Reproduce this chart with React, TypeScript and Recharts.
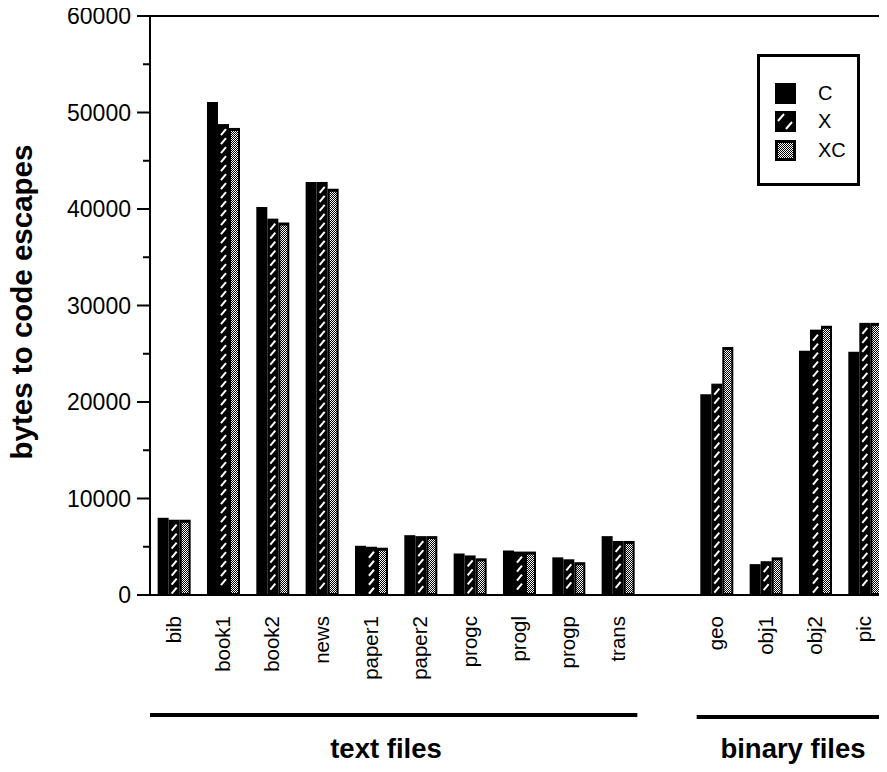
import React from "react";
import { BarChart, Bar, XAxis, YAxis, Legend, ReferenceLine } from "recharts";

const categories = ["bib", "book1", "book2", "news", "paper1", "paper2", "progc", "progl", "progp", "trans", "", "geo", "obj1", "obj2", "pic"];
const cValues = [8000, 51100, 40200, 42800, 5100, 6200, 4300, 4600, 3900, 6100, null, 20800, 3200, 25300, 25200];
const xValues = [7800, 48800, 39000, 42800, 5000, 6100, 4100, 4500, 3700, 5600, null, 21900, 3500, 27500, 28200];
const xcValues = [7800, 48400, 38600, 42100, 4900, 6100, 3800, 4500, 3400, 5600, null, 25700, 3900, 27900, 28200];
const yTicks = [0, 5000, 10000, 15000, 20000, 25000, 30000, 35000, 40000, 45000, 50000, 55000, 60000];
const groups = [
  { label: "text files", from: 0, to: 9 },
  { label: "binary files", from: 11, to: 14 },
];

const data = categories.map((name, i) => ({ name, C: cValues[i], X: xValues[i], XC: xcValues[i] }));

const FONT = "'Liberation Sans', Arial, Helvetica, sans-serif";
const W = 910;
const H = 772;
const LEFT = 150;
const RIGHT = 20;
const TOP = 16;
const X_HEIGHT = 177;
const slot = (W - LEFT - RIGHT) / categories.length;

const HatchBar = ({ x, y, width, height }: any) => {
  if (!height || height <= 0) return null;
  const lines = [];
  for (let yy = y + 4; yy + 7 < y + height - 1; yy += 9) {
    lines.push(
      <line key={yy} x1={x + 3} y1={yy + 7} x2={x + width - 3} y2={yy + 1} stroke="#fff" strokeWidth={2} />
    );
  }
  return (
    <g>
      <rect x={x} y={y} width={width} height={height} fill="#000" />
      {lines}
    </g>
  );
};

const DotBar = ({ x, y, width, height }: any) => {
  if (!height || height <= 0) return null;
  return (
    <g>
      <rect x={x} y={y} width={width} height={height} fill="#000" />
      {height > 5 && (
        <rect x={x + 2} y={y + 3} width={width - 4} height={height - 5} fill="url(#dots)" />
      )}
    </g>
  );
};

const Swatch = ({ kind }: { kind: string }) => (
  <svg width={21} height={21} style={{ display: "block" }}>
    <defs>
      <pattern id={"sw-dots-" + kind} width={2} height={2} patternUnits="userSpaceOnUse">
        <rect width={2} height={2} fill="#000" />
        <rect width={1} height={1} fill="#fff" />
        <rect x={1} y={1} width={1} height={1} fill="#fff" />
      </pattern>
    </defs>
    <rect width={21} height={21} fill="#000" />
    {kind === "X" && (
      <>
        <line x1={3} y1={10} x2={9} y2={3} stroke="#fff" strokeWidth={2} />
        <line x1={11} y1={18} x2={17} y2={11} stroke="#fff" strokeWidth={2} />
      </>
    )}
    {kind === "XC" && <rect x={3} y={3} width={15} height={15} fill={`url(#sw-dots-${kind})`} />}
  </svg>
);

const renderLegend = (props: any) => {
  const items = props.payload || [];
  return (
    <div
      style={{
        boxSizing: "border-box",
        width: 103,
        height: 132,
        border: "3px solid #000",
        background: "#fff",
        paddingTop: 22,
        paddingLeft: 15,
        fontFamily: FONT,
        fontSize: 20,
      }}
    >
      {items.map((item: any) => (
        <div key={item.value} style={{ display: "flex", alignItems: "center", height: 28.5 }}>
          <Swatch kind={item.value} />
          <span style={{ marginLeft: 22, lineHeight: "21px" }}>{item.value}</span>
        </div>
      ))}
    </div>
  );
};

const XTick = ({ x, y, payload }: any) => {
  if (!payload.value) return null;
  return (
    <text
      x={x}
      y={y + 21}
      dy="0.3em"
      transform={`rotate(-90, ${x}, ${y + 21})`}
      textAnchor="end"
      fontFamily={FONT}
      fontSize={20.5}
      fill="#000"
    >
      {payload.value}
    </text>
  );
};

const YTick = ({ x, y, payload }: any) => {
  const major = payload.value % 10000 === 0;
  return (
    <g>
      <line x1={x - (major ? 13 : 7)} x2={x} y1={y} y2={y} stroke="#000" strokeWidth={2} />
      {major && (
        <text x={x - 19} y={y} dy="0.35em" textAnchor="end" fontFamily={FONT} fontSize={23} fill="#000">
          {payload.value}
        </text>
      )}
    </g>
  );
};

export default function App() {
  return (
    <div style={{ margin: -8, width: 887, height: 772, overflow: "hidden", position: "relative", background: "#fff" }}>
      <BarChart
        width={W}
        height={H}
        data={data}
        margin={{ top: TOP, right: RIGHT, bottom: 0, left: 0 }}
        barCategoryGap="15.5%"
        barGap={0}
      >
        <defs>
          <pattern id="dots" width={2} height={2} patternUnits="userSpaceOnUse">
            <rect width={2} height={2} fill="#000" />
            <rect width={1} height={1} fill="#fff" />
            <rect x={1} y={1} width={1} height={1} fill="#fff" />
          </pattern>
        </defs>
        <XAxis
          dataKey="name"
          height={X_HEIGHT}
          interval={0}
          tickLine={false}
          tickSize={0}
          tickMargin={0}
          axisLine={{ stroke: "#000", strokeWidth: 2 }}
          tick={<XTick />}
        />
        <YAxis
          width={LEFT}
          domain={[0, 60000]}
          ticks={yTicks}
          interval={0}
          tickLine={false}
          tickSize={0}
          tickMargin={0}
          axisLine={{ stroke: "#000", strokeWidth: 2 }}
          tick={<YTick />}
        />
        <ReferenceLine y={60000} stroke="#000" strokeWidth={2} />
        <Legend
          layout="vertical"
          align="center"
          verticalAlign="middle"
          content={renderLegend}
          wrapperStyle={{ left: 757, top: 54, width: 103, height: 132 }}
        />
        <Bar dataKey="C" fill="#000" isAnimationActive={false} />
        <Bar dataKey="X" fill="#000" isAnimationActive={false} shape={(p: any) => <HatchBar {...p} />} />
        <Bar dataKey="XC" fill="#000" isAnimationActive={false} shape={(p: any) => <DotBar {...p} />} />
      </BarChart>
      <svg
        width={887}
        height={772}
        style={{ position: "absolute", left: 0, top: 0, pointerEvents: "none" }}
      >
        <text
          x={32}
          y={302}
          transform="rotate(-90, 32, 302)"
          textAnchor="middle"
          fontFamily={FONT}
          fontSize={29.5}
          fontWeight="bold"
          fill="#000"
        >
          bytes to code escapes
        </text>
        {groups.map((g, i) => {
          const x1 = i === 0 ? LEFT : LEFT + g.from * slot + 4;
          const x2 = LEFT + (g.to + 1) * slot - 6;
          return (
            <g key={g.label}>
              <line x1={x1} x2={x2} y1={715 + i * 2} y2={715 + i * 2} stroke="#000" strokeWidth={4} />
              <text
                x={i === 0 ? 386 : 793}
                y={758}
                textAnchor="middle"
                fontFamily={FONT}
                fontSize={27.5}
                fontWeight="bold"
                fill="#000"
              >
                {g.label}
              </text>
            </g>
          );
        })}
      </svg>
    </div>
  );
}
